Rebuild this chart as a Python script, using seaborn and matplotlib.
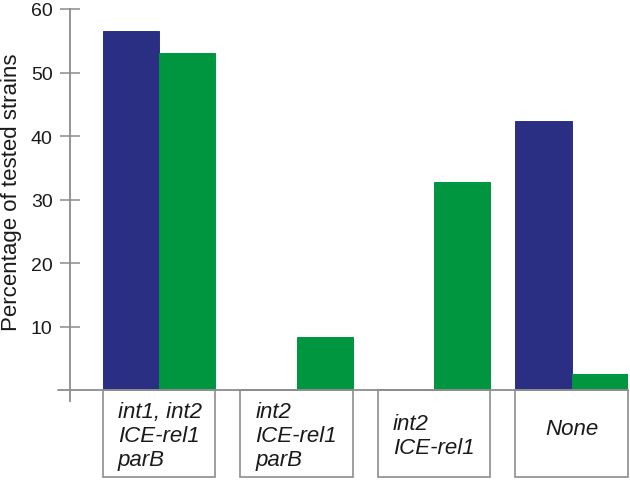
import numpy as np
import pandas as pd
import matplotlib
matplotlib.use("Agg")
import matplotlib.pyplot as plt
import seaborn as sns
from matplotlib.patches import Rectangle

# values
groups = ["int1, int2\nICE-rel1\nparB", "int2\nICE-rel1\nparB", "int2\nICE-rel1", "None"]
series = ["first", "second"]
vals_first = [56.5, 0.0, 0.0, 42.3]
vals_second = [53.0, 8.3, 32.7, 2.5]
yticks = [10, 20, 30, 40, 50, 60]

sns.set_style("white")
plt.rcParams['font.family'] = ['Liberation Sans', 'DejaVu Sans']

df = pd.DataFrame({
    'group': groups * 2,
    'series': [series[0]] * 4 + [series[1]] * 4,
    'value': vals_first + vals_second,
})

fig = plt.figure(figsize=(6.3, 4.81), dpi=100)
ax = fig.add_axes([70 / 630, 1 - 402 / 481, 558 / 630, 392 / 481])

sns.barplot(data=df, x='group', y='value', hue='series', order=groups,
            hue_order=series, palette=['#2b2f84', '#009640'], saturation=1,
            width=0.82, gap=0, legend=False, linewidth=0, ax=ax)
for p in ax.patches:
    p.set_edgecolor(p.get_facecolor())
    p.set_linewidth(0.7)

gray = '#8c8c8c'
ax.set_xlim(-0.648, 3.41)
ax.set_ylim(-1.73, 60)
ax.set_yticks(yticks)
ax.set_yticklabels([str(t) for t in yticks], fontsize=14, color='#1a1a1a')
ax.tick_params(axis='y', direction='inout', length=15, width=1.1, color=gray, pad=5, left=True)
ax.set_xticks([])
ax.set_xlabel('')
ax.set_ylabel('Percentage of tested strains', fontsize=16, color='#1a1a1a')
ax.yaxis.set_label_coords(-0.086, 0.535)

for s in ['top', 'right', 'bottom']:
    ax.spines[s].set_visible(False)
ax.spines['left'].set_color(gray)
ax.spines['left'].set_linewidth(1.3)

ax.axhline(0, xmin=-0.022, xmax=1, color=gray, lw=1.3, clip_on=False, zorder=3)

# label boxes under the bars
box_h = 87 / 6.35
for i, g in enumerate(groups):
    ax.add_patch(Rectangle((i - 0.41, -box_h), 0.82, box_h, facecolor='white',
                           edgecolor=gray, lw=1.2, clip_on=False, zorder=2))
    if g == "None":
        ax.text(i, -box_h / 2 + 0.8, g, ha='center', va='center', fontsize=16,
                style='italic', color='#1a1a1a')
    else:
        ax.text(i - 0.41 + 15 / 137.3, -box_h / 2 - 0.3, g, ha='left', va='center',
                fontsize=16, style='italic', color='#1a1a1a', linespacing=1.2)

fig.savefig('out.png', dpi=100)
